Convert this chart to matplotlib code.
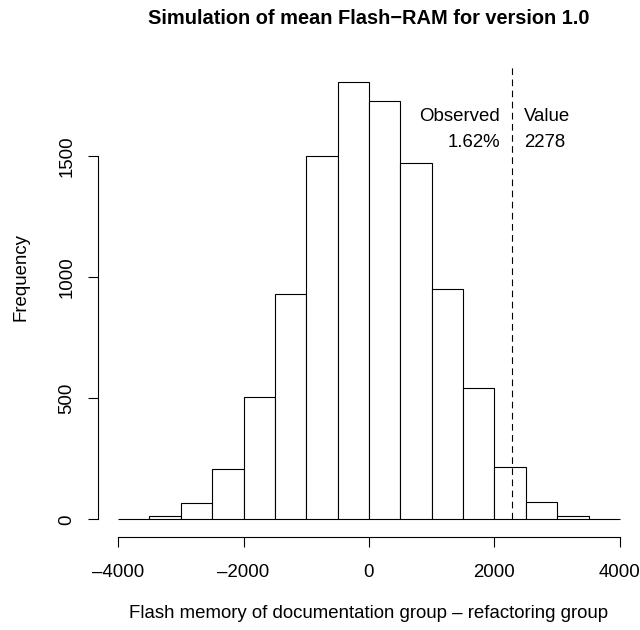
import matplotlib
matplotlib.use("Agg")
import matplotlib.pyplot as plt
import numpy as np

plt.rcParams['font.family'] = ['Liberation Sans', 'DejaVu Sans']

bin_edges = [-4000, -3500, -3000, -2500, -2000, -1500, -1000, -500, 0,
             500, 1000, 1500, 2000, 2500, 3000, 3500, 4000]
counts = [3, 15, 66, 207, 504, 930, 1500, 1806, 1727, 1471, 950, 541, 215, 74, 15, 3]
observed_value = 2278
observed_pct = "1.62%"
xticks = [-4000, -2000, 0, 2000, 4000]
yticks = [0, 500, 1000, 1500]

W, H = 640, 630
fig = plt.figure(figsize=(W / 100, H / 100), dpi=100)
ax = fig.add_axes([98 / W, (H - 537) / H, (640 - 98) / W, (537 - 64) / H])

edges = np.array(bin_edges)
widths = np.diff(edges)
ax.bar(edges[:-1], counts, width=widths, align='edge', color='white',
       edgecolor='black', linewidth=0.8)

ymax = max(counts)
ax.set_xlim(-4320, 4320)
ax.set_ylim(-0.04 * ymax, ymax * 1.04)

top = ax.get_ylim()[1]
ax.plot([observed_value, observed_value], [0, top], color='black',
        linewidth=0.8, dashes=(6, 4))

fs = 13.4
ax.text(observed_value - 190, 1609, "Observed\n" + observed_pct, ha='right', va='center',
        fontsize=fs, linespacing=1.65)
ax.text(observed_value + 190, 1609, "Value\n" + str(observed_value), ha='left', va='center',
        fontsize=fs, linespacing=1.65)

for s in ['top', 'right']:
    ax.spines[s].set_visible(False)
ax.spines['bottom'].set_bounds(xticks[0], xticks[-1])
ax.spines['left'].set_bounds(yticks[0], yticks[-1])
ax.spines['bottom'].set_linewidth(0.8)
ax.spines['left'].set_linewidth(0.8)
ax.set_xticks(xticks)
ax.set_xticklabels([str(t).replace('-', '\u2013') for t in xticks])
ax.set_yticks(yticks)
ax.set_yticklabels([str(t) for t in yticks], rotation=90, va='center')
ax.tick_params(axis='both', length=7.2, width=0.8, labelsize=fs, direction='out')
ax.tick_params(axis='x', pad=12.5)
ax.tick_params(axis='y', pad=9)

fig.text(369 / W, 1 - 18 / H, "Simulation of mean Flash\u2212RAM for version 1.0",
         ha='center', va='center', fontsize=14.4, fontweight='bold')
fig.text(369 / W, 1 - 613 / H, "Flash memory of documentation group \u2013 refactoring group",
         ha='center', va='center', fontsize=fs)
fig.text(21 / W, 1 - 277 / H, "Frequency", ha='center', va='center', rotation=90, fontsize=fs)

fig.savefig("out.png", dpi=100)
